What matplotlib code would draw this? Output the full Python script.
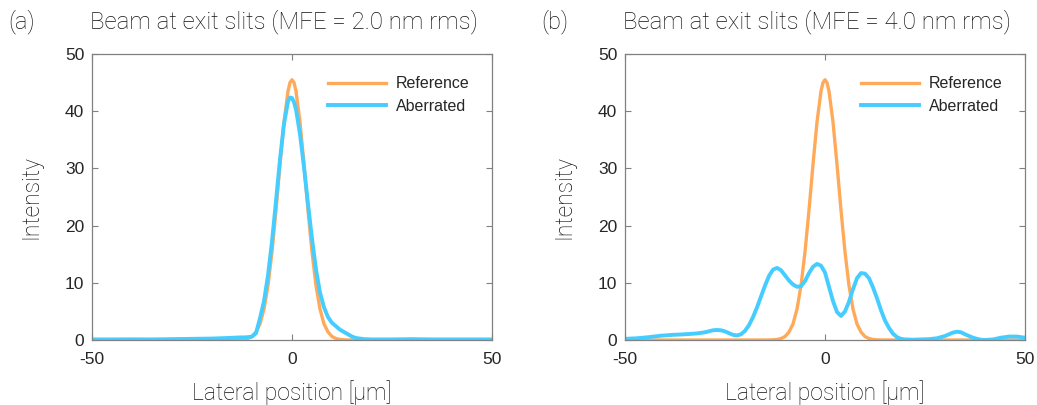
import numpy as np
import matplotlib
matplotlib.use("Agg")
import matplotlib.pyplot as plt

plt.rcParams['font.family'] = ['Roboto', 'DejaVu Sans']
plt.rcParams['axes.unicode_minus'] = False

# reference beam profile (same in both panels)
ref_x = [-50, -30, -20, -16, -14, -13, -12, -11, -10, -9, -8, -7, -6, -5, -4, -3, -2, -1, -0.5,
         0, 0.5, 1, 2, 3, 4, 5, 6, 7, 8, 9, 10, 11, 12, 13, 14, 16, 20, 30, 50]
ref_y = [0, 0, 0, 0, 0.01, 0.03, 0.1, 0.25, 0.6, 1.4, 2.8, 5.4, 9.5, 15.4, 22.7, 30.7, 38.1, 43.5, 45.0,
         45.5, 45.0, 43.5, 38.1, 30.7, 22.7, 15.4, 9.5, 5.4, 2.8, 1.4, 0.6, 0.25, 0.1, 0.03, 0.01, 0, 0, 0, 0]

# aberrated, MFE = 2.0 nm rms
ab2_x = [-50, -45, -40, -35, -30, -25, -20, -16, -13, -12, -11, -10, -9, -8, -7, -6, -5, -4, -3, -2, -1,
         -0.5, 0, 0.5, 1, 2, 3, 4, 5, 6, 7, 8, 9, 10, 11, 12, 13, 14, 15, 16, 18, 20, 25, 30, 35, 40, 45, 50]
ab2_y = [0.1, 0.1, 0.12, 0.1, 0.15, 0.2, 0.25, 0.35, 0.45, 0.45, 0.5, 0.6, 1.2, 3.8, 6.8, 11.3, 17.2, 24.3, 31.6, 37.8, 41.7,
         42.4, 42.3, 41.6, 40.3, 36.0, 30.2, 23.8, 17.7, 12.3, 8.3, 5.7, 4.0, 3.0, 2.4, 1.8, 1.4, 1.0, 0.6, 0.35, 0.15, 0.1, 0.1, 0.15, 0.1, 0.1, 0.1, 0.1]

# aberrated, MFE = 4.0 nm rms
ab4_x = [-50, -47, -44, -41, -38, -35, -32, -30, -28, -27, -26, -25, -24, -23, -22, -21, -20, -19, -18,
         -17, -16, -15, -14, -13, -12, -11, -10, -9, -8, -7, -6, -5, -4, -3, -2, -1, 0, 1, 2, 3, 4,
         5, 6, 7, 8, 9, 10, 11, 12, 13, 14, 15, 16, 17, 18, 19, 20, 22, 24, 26, 28, 30, 31, 32, 33,
         34, 35, 36, 37, 38, 39, 40, 42, 44, 46, 48, 50]
ab4_y = [0.2, 0.3, 0.5, 0.75, 0.9, 1.0, 1.15, 1.35, 1.7, 1.75, 1.7, 1.5, 1.2, 0.9, 0.8, 1.0, 1.6, 2.6, 4.0,
         5.7, 7.6, 9.5, 11.2, 12.3, 12.6, 12.2, 11.3, 10.4, 9.7, 9.3, 9.4, 10.3, 11.7, 12.8, 13.3, 13.0, 11.8, 9.3, 6.8, 4.9, 4.2,
         5.0, 6.7, 8.9, 10.8, 11.7, 11.6, 10.8, 9.2, 7.3, 5.2, 3.4, 2.1, 1.1, 0.5, 0.2, 0.1, 0.05, 0.1, 0.15, 0.3, 0.7, 1.0, 1.3, 1.45,
         1.35, 1.0, 0.7, 0.4, 0.2, 0.05, 0.0, 0.1, 0.4, 0.6, 0.6, 0.4]

panels = [("(a)", "Beam at exit slits (MFE = 2.0 nm rms)", ab2_x, ab2_y),
          ("(b)", "Beam at exit slits (MFE = 4.0 nm rms)", ab4_x, ab4_y)]

ORANGE = '#FFAA5A'
BLUE = '#45CDFF'
TXT = '#262626'
SANS = ['Liberation Sans', 'DejaVu Sans']

fig = plt.figure(figsize=(10.37, 4.05), dpi=100)
lefts = [92 / 1037, 625 / 1037]

for left, (tag, title, ax_x, ax_y) in zip(lefts, panels):
    ax = fig.add_axes([left, 65 / 405, 400 / 1037, 286 / 405])
    ax.plot(ref_x, ref_y, color=ORANGE, lw=2.4, label='Reference', solid_joinstyle='round')
    ax.plot(ax_x, ax_y, color=BLUE, lw=2.8, label='Aberrated', solid_joinstyle='round')
    ax.set_xlim(-50, 50)
    ax.set_ylim(0, 50)
    ax.set_xticks([-50, 0, 50])
    ax.set_yticks([0, 10, 20, 30, 40, 50])
    ax.tick_params(direction='in', top=True, right=True, length=4, width=0.8,
                   color='#808080', labelsize=12.5, labelcolor=TXT)
    ax.tick_params(axis='x', pad=9)
    ax.tick_params(axis='y', pad=5.5)
    for lab in ax.get_xticklabels() + ax.get_yticklabels():
        lab.set_family(SANS)
    for s in ax.spines.values():
        s.set_color('#808080')
        s.set_linewidth(0.9)
    ax.set_xlabel('Lateral position [µm]', fontsize=16.5, fontweight='light', color='#111111', labelpad=9)
    ax.set_ylabel('Intensity', fontsize=16.5, fontweight='light', color='#111111', labelpad=16)
    leg = ax.legend(loc='upper right', frameon=False, prop={'family': SANS, 'size': 11.5},
                    handlelength=3.6, labelspacing=0.45, handletextpad=0.65,
                    borderaxespad=1.0, bbox_to_anchor=(1.0, 1.0))
    for t in leg.get_texts():
        t.set_color(TXT)
    fx = left - 84 / 1037
    fig.text(fx, 1 - 28 / 405, tag, fontsize=17, fontweight='light', color='#111111', va='baseline')
    fig.text(left - 2 / 1037, 1 - 28 / 405, title, fontsize=17.3, fontweight='light', color='#111111', va='baseline')

fig.savefig('out.png', dpi=100)
